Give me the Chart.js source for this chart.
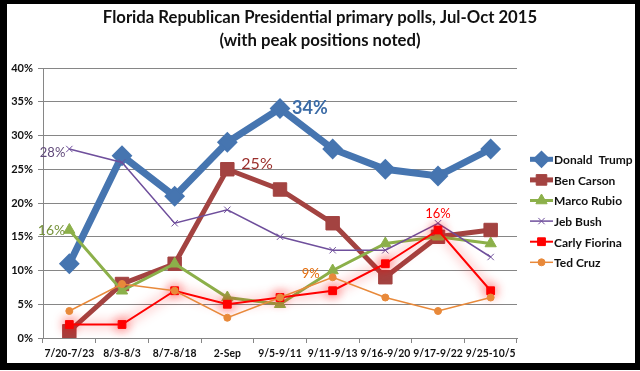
<!DOCTYPE html>
<html>
<head>
<meta charset="utf-8">
<script src="https://cdn.jsdelivr.net/npm/chart.js@4/dist/chart.umd.min.js"></script>
<style>
  html, body { margin: 0; padding: 0; background: #fff; }
  #frame { position: absolute; left: 0; top: 0; width: 640px; height: 370px; background: #000; }
  #box { position: absolute; left: 7px; top: 4px; width: 628px; height: 359px; background: #fff; }
  canvas { display: block; }
</style>
</head>
<body>
<div id="frame"><div id="box"><canvas id="pollChart" width="628" height="359"></canvas></div></div>
<script>
// poll dates
const categories = ["7/20-7/23", "8/3-8/3", "8/7-8/18", "2-Sep", "9/5-9/11", "9/11-9/13", "9/16-9/20", "9/17-9/22", "9/25-10/5"];
const seriesNames = ["Donald  Trump", "Ben Carson", "Marco Rubio", "Jeb Bush", "Carly Fiorina", "Ted Cruz"];

// percentages per candidate
const trump = [11, 27, 21, 29, 34, 28, 25, 24, 28];
const carson = [1, 8, 11, 25, 22, 17, 9, 15, 16];
const rubio = [16, 7, 11, 6, 5, 10, 14, 15, 14];
const bush = [28, 26, 17, 19, 15, 13, 13, 17, 12];
const fiorina = [2, 2, 7, 5, 6, 7, 11, 16, 7];
const cruz = [4, 8, 7, 3, 6, 9, 6, 4, 6];

const yTicks = [0, 5, 10, 15, 20, 25, 30, 35, 40];

const allSeries = [trump, carson, rubio, bush, fiorina, cruz];

// line / marker look per series
const styles = [
  { color: "#4675B0", width: 7, point: "rectRot", radius: 9, pb: 2 },
  { color: "#A34341", width: 5, point: "rect", radius: 9.5, pb: 1 },
  { color: "#8CB04A", width: 3, point: "triangle", radius: 6.5, pb: 1 },
  { color: "#6F4F9C", width: 1.5, point: "crossRot", radius: 4.5, pb: 1 },
  { color: "#FF0000", width: 2, point: "rect", radius: 5.5, pb: 1 },
  { color: "#E8893A", width: 1.5, point: "circle", radius: 3.5, pb: 1 },
];

// peak label look: offset from point, alignment
const peakStyles = [
  { color: "#3B6BA6", font: "bold 18px Lato", dx: 12, dy: 0, align: "left" },
  { color: "#9A2E2B", font: "16px Lato", dx: 14, dy: -5, align: "left" },
  { color: "#77933C", font: "14px Lato", dx: -4, dy: 0, align: "right" },
  { color: "#60497A", font: "13px Lato", dx: -4, dy: 4, align: "right" },
  { color: "#FF0000", font: "13px Lato", dx: 0, dy: -16, align: "center" },
  { color: "#E46C0A", font: "13px Lato", dx: -13, dy: -3, align: "right" },
];

const legendTop = 155.3, legendStep = 20.6;

const datasets = allSeries.map((data, i) => ({
  label: seriesNames[i],
  data: data,
  borderColor: styles[i].color,
  backgroundColor: styles[i].color,
  borderWidth: styles[i].width,
  pointStyle: styles[i].point,
  pointRadius: styles[i].radius,
  pointBorderWidth: styles[i].pb,
  pointBackgroundColor: styles[i].color,
  pointBorderColor: styles[i].color,
  tension: 0,
  order: 6 - i,
}));

// glow under Fiorina's line
const glowPlugin = {
  id: "glow",
  beforeDatasetDraw(chart, args) {
    if (args.index === 4) {
      chart.ctx.save();
      chart.ctx.shadowColor = "rgba(255,0,0,0.8)";
      chart.ctx.shadowBlur = 12;
    }
  },
  afterDatasetDraw(chart, args) {
    if (args.index === 4) chart.ctx.restore();
  },
};

// title, legend and peak labels
const extrasPlugin = {
  id: "extras",
  afterDraw(chart) {
    const ctx = chart.ctx;
    ctx.save();
    ctx.fillStyle = "#111";
    ctx.textAlign = "center";
    ctx.textBaseline = "middle";
    ctx.font = "bold 16.7px Lato";
    ctx.fillText("Florida Republican Presidential primary polls, Jul-Oct 2015", 313, 14);
    ctx.fillText("(with peak positions noted)", 313, 37);

    // peaks
    const xs = chart.scales.x, ys = chart.scales.y;
    allSeries.forEach((data, i) => {
      const peak = Math.max(...data);
      const idx = data.indexOf(peak);
      const ps = peakStyles[i];
      ctx.font = ps.font;
      ctx.fillStyle = ps.color;
      ctx.textAlign = ps.align;
      ctx.fillText(peak + "%", xs.getPixelForValue(idx) + ps.dx, ys.getPixelForValue(peak) + ps.dy);
    });

    // legend
    ctx.textAlign = "left";
    ctx.font = "bold 12px Lato";
    allSeries.forEach((data, i) => {
      const y = legendTop + i * legendStep;
      const s = styles[i];
      ctx.strokeStyle = s.color;
      ctx.fillStyle = s.color;
      ctx.lineWidth = Math.min(s.width, 5);
      ctx.beginPath();
      ctx.moveTo(523, y);
      ctx.lineTo(546, y);
      ctx.stroke();
      ctx.lineWidth = s.pb;
      if (Chart.helpers && Chart.helpers.drawPoint) {
        Chart.helpers.drawPoint(ctx, { pointStyle: s.point, radius: Math.min(s.radius, 7.5), rotation: 0, borderWidth: s.pb }, 534.5, y);
      }
      ctx.fillStyle = "#111";
      ctx.fillText(seriesNames[i], 547, y + 1, 79);
    });
    ctx.restore();
  },
};

new Chart(document.getElementById("pollChart"), {
  type: "line",
  data: { labels: categories, datasets: datasets },
  options: {
    responsive: false,
    animation: false,
    layout: { padding: { top: 64, right: 118, left: 0, bottom: 0 } },
    plugins: {
      legend: { display: false },
      tooltip: { enabled: false },
    },
    scales: {
      x: {
        offset: true,
        grid: { offset: true, drawOnChartArea: false, drawTicks: true, tickLength: 5, color: "#868686" },
        border: { color: "#868686" },
        ticks: { color: "#111", font: { family: "Lato", weight: "bold", size: 10.4 }, padding: 4, maxRotation: 0, autoSkip: false },
        afterFit: (s) => { s.height = 25; },
      },
      y: {
        min: 0,
        max: 40,
        afterBuildTicks: (s) => { s.ticks = yTicks.map((v) => ({ value: v })); },
        grid: { color: "#868686", tickLength: 5 },
        border: { color: "#868686" },
        ticks: { color: "#111", font: { family: "Lato", weight: "bold", size: 11 }, padding: 5, callback: (v) => v + "%" },
        afterFit: (s) => { s.width = 36; },
      },
    },
  },
  plugins: [glowPlugin, extrasPlugin],
});
</script>
</body>
</html>
